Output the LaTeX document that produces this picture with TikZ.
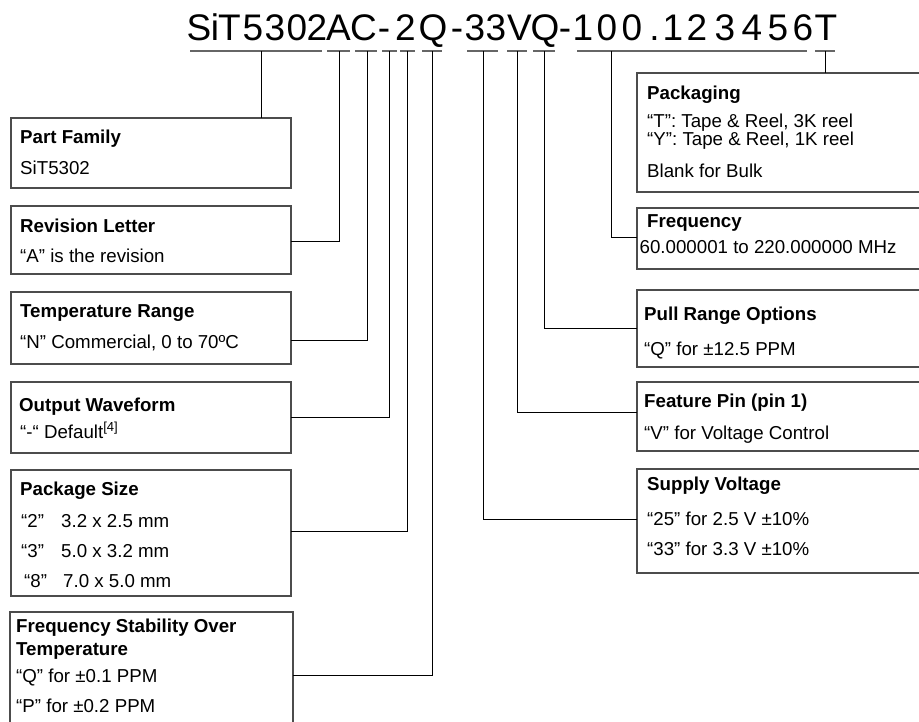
\documentclass[tikz,border=0pt]{standalone}
\usepackage{fontspec}
\setmainfont{Liberation Sans}
\begin{document}
\begin{tikzpicture}[x=1pt,y=-1pt,
  box/.style={draw=black!70, line width=1.1pt, rectangle, inner sep=0pt, outer sep=0pt, anchor=north west},
  head/.style={anchor=base west, inner sep=0pt, font=\bfseries\fontsize{18.7}{20}\selectfont},
  body/.style={anchor=base west, inner sep=0pt, font=\fontsize{18.7}{20}\selectfont},
  titlech/.style={anchor=base, inner sep=0pt, font=\fontsize{37}{40}\selectfont},
  uline/.style={draw=black!60, line width=1.1pt},
  conn/.style={draw=black, line width=0.9pt}]
\useasboundingbox (0,0) rectangle (919,721);
\clip (0,0) rectangle (919,721);
\fill[white] (0,0) rectangle (919,721);

% title characters
\foreach \ch/\xx [count=\i] in {S/199,i/215,T/229.5,5/253,3/275,0/297,2/317,A/338.5,C/363.5,-/384,2/405.5,Q/433,-/457,3/475,3/496,V/519.5,Q/545,-/565,1/583,0/607,0/632,./654.5,1/673,2/697,3/725,4/752,5/778,6/803,T/826}
  \node[titlech] (c\i) at (\xx,40) {\ch};

% underlines
\foreach \a/\b in {190/322,327/350,355/377,382/397,400/415,422/442,467/498,507/527,533/555,577/807,815/835}
  \draw[uline] (\a,51) -- (\b,51);

% tick coordinates
\coordinate (u1) at (261,51);
\coordinate (u2) at (339,51);
\coordinate (u3) at (367,51);
\coordinate (u4) at (389,51);
\coordinate (u5) at (407,51);
\coordinate (u6) at (432,51);
\coordinate (u7) at (483,51);
\coordinate (u8) at (517,51);
\coordinate (u9) at (544,51);
\coordinate (u10) at (611,51);
\coordinate (u11) at (825,51);

% left boxes
\node[box, minimum width=280pt, minimum height=70pt] (pf) at (11,118) {};
\node[box, minimum width=280pt, minimum height=68pt] (rev) at (11,206) {};
\node[box, minimum width=280pt, minimum height=72pt] (temp) at (11,292) {};
\node[box, minimum width=280pt, minimum height=71pt] (out) at (11,382) {};
\node[box, minimum width=280pt, minimum height=126pt] (pkg) at (11,470) {};
\node[box, minimum width=283pt, minimum height=126pt] (stab) at (10,612) {};

% right boxes
\node[box, minimum width=313pt, minimum height=119pt] (pack) at (637,73) {};
\node[box, minimum width=313pt, minimum height=61pt] (freq) at (637,208) {};
\node[box, minimum width=313pt, minimum height=77pt] (pull) at (637,290) {};
\node[box, minimum width=313pt, minimum height=69pt] (feat) at (637,382) {};
\node[box, minimum width=313pt, minimum height=104pt] (supp) at (637,469) {};

% left texts
\node[head] (pfh) at (20,143) {Part Family};
\node[body] (pfb) at (20,174) {SiT5302};
\node[head] (revh) at (20,232) {Revision Letter};
\node[body] (revb) at (20,262) {“A” is the revision};
\node[head] (temph) at (20,317) {Temperature Range};
\node[body] (tempb) at (20,348) {“N” Commercial, 0 to 70ºC};
\node[head] (outh) at (19,411) {Output Waveform};
\node[body] (outb) at (20,438) {“-“ Default\textsuperscript{[4]}};
\node[head] (pkgh) at (20,495) {Package Size};
\node[body] (pkg1a) at (21,527) {“2”};
\node[body] (pkg1b) at (61,527) {3.2 x 2.5 mm};
\node[body] (pkg2a) at (21,557) {“3”};
\node[body] (pkg2b) at (61,557) {5.0 x 3.2 mm};
\node[body] (pkg3a) at (24,587) {“8”};
\node[body] (pkg3b) at (63,587) {7.0 x 5.0 mm};
\node[head] (stabh1) at (16,632) {Frequency Stability Over};
\node[head] (stabh2) at (16,655) {Temperature};
\node[body] (stab1) at (16,682) {“Q” for ±0.1 PPM};
\node[body] (stab2) at (16,712) {“P” for ±0.2 PPM};

% right texts
\node[head] (packh) at (647,99) {Packaging};
\node[body] (pack1) at (647,127) {“T”: Tape \& Reel, 3K reel};
\node[body] (pack2) at (647,145) {“Y”: Tape \& Reel, 1K reel};
\node[body] (pack3) at (647,177) {Blank for Bulk};
\node[head] (freqh) at (647,227) {Frequency};
\node[body] (freqb) at (639.5,253) {60.000001 to 220.000000 MHz};
\node[head] (pullh) at (644,320) {Pull Range Options};
\node[body] (pullb) at (644,355) {“Q” for ±12.5 PPM};
\node[head] (feath) at (644,407) {Feature Pin (pin 1)};
\node[body] (featb) at (644,439) {“V” for Voltage Control};
\node[head] (supph) at (647,490) {Supply Voltage};
\node[body] (supp1) at (647,525) {“25” for 2.5 V ±10\%};
\node[body] (supp2) at (647,555) {“33” for 3.3 V ±10\%};

% connectors
\draw[conn] (u1) -- (pf.north -| u1);
\draw[conn] (u2) |- ([yshift=-1pt]rev.east);
\draw[conn] (u3) |- ([yshift=-12pt]temp.east);
\draw[conn] (u4) |- (out.east);
\draw[conn] (u5) |- ([yshift=2pt]pkg.east);
\draw[conn] (u6) |- (stab.east);
\draw[conn] (u7) |- ([yshift=2pt]supp.west);
\draw[conn] (u8) |- ([yshift=4.5pt]feat.west);
\draw[conn] (u9) |- (pull.west);
\draw[conn] (u10) |- ([yshift=1.5pt]freq.west);
\draw[conn] (u11) -- (pack.north -| u11);
\end{tikzpicture}
\end{document}
